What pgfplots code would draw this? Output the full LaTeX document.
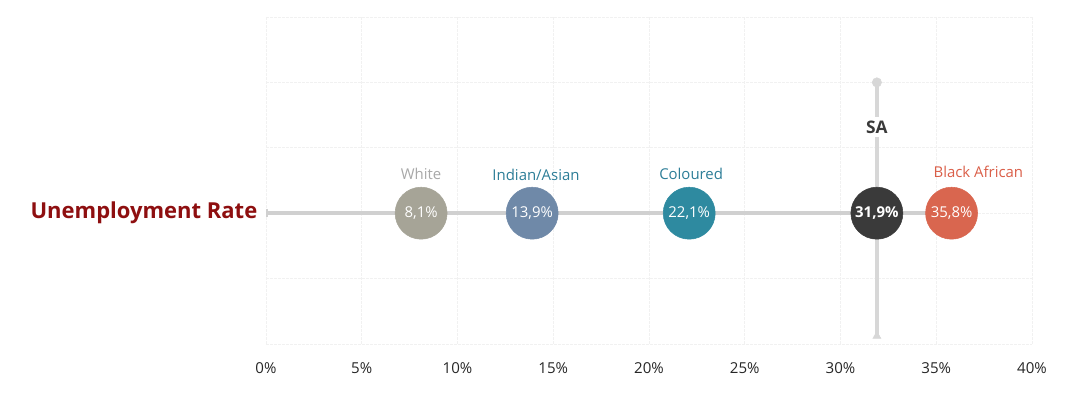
\documentclass[border=0pt]{standalone}
\usepackage{pgfplots}
\pgfplotsset{compat=1.18}
\usepackage{fontspec}
\setmainfont{Open Sans}
\definecolor{gridc}{HTML}{F1F1F1}
\definecolor{linec}{HTML}{D0D0D0}
\definecolor{cwhite}{HTML}{A6A497}
\definecolor{cindian}{HTML}{6F89A8}
\definecolor{ccol}{HTML}{2E8AA0}
\definecolor{csa}{HTML}{3A3A3A}
\definecolor{cblack}{HTML}{D9664F}
\definecolor{ltwhite}{HTML}{A8A8A8}
\definecolor{ltteal}{HTML}{2C7D97}
\definecolor{ltred}{HTML}{DA5E48}
\definecolor{titlec}{HTML}{8E0F10}
\begin{document}
\begin{tikzpicture}
\useasboundingbox (-199.5pt,-40.5pt) rectangle (610.5pt,258pt);
\begin{axis}[
  at={(0,0)}, anchor=south west,
  scale only axis,
  width=574.5pt, height=245.25pt,
  xmin=0, xmax=40, ymin=0, ymax=5,
  xtick={0,5,...,40},
  xticklabels={0\%,5\%,10\%,15\%,20\%,25\%,30\%,35\%,40\%},
  ytick={0,1,2,3,4,5},
  yticklabels={},
  grid=major,
  grid style={gridc, dash pattern=on 2pt off 1pt, line width=0.6pt},
  axis line style={draw=none},
  tick style={draw=none},
  xticklabel style={font=\fontsize{11.3}{13}\selectfont, text=black!85, anchor=base, yshift=-22pt},
  clip=false,
  circ/.style={only marks, mark=*, mark size=19.5pt, color=#1,
    nodes near coords align={center},
    every node near coord/.append style={text=white, font=\fontsize{11.2}{13}\selectfont, anchor=center}},
]
% horizontal rail
\addplot[linec, line width=3pt, mark=none] coordinates {(0,2) (35.8,2)};
% SA vertical rail
\addplot[linec!85!white, line width=2.6pt, mark=none] coordinates {(31.9,0.12) (31.9,4)};
\addplot[only marks, mark=*, mark size=3.5pt, color=linec!85!white] coordinates {(31.9,4)};
\addplot[only marks, mark=triangle*, mark size=3.5pt, color=linec!85!white] coordinates {(31.9,0.12)};
\addplot[only marks, mark=|, mark size=3pt, color=linec, line width=2pt] coordinates {(0.05,2)};
% circles with values
\addplot[circ=cwhite, nodes near coords={8,1\%}] coordinates {(8.1,2)};
\addplot[circ=cindian, nodes near coords={13,9\%}] coordinates {(13.9,2)};
\addplot[circ=ccol, nodes near coords={22,1\%}] coordinates {(22.1,2)};
\addplot[circ=csa, nodes near coords={\bfseries 31,9\%}] coordinates {(31.9,2)};
\addplot[circ=cblack, nodes near coords={35,8\%}] coordinates {(35.8,2)};
% category labels
\node[text=ltwhite, font=\fontsize{11.2}{13}\selectfont] at (axis cs:8.1,2.6) {White};
\node[text=ltteal, font=\fontsize{11.2}{13}\selectfont] at (axis cs:14.1,2.58) {Indian/Asian};
\node[text=ltteal, font=\fontsize{11.2}{13}\selectfont] at (axis cs:22.2,2.6) {Coloured};
\node[text=ltred, font=\fontsize{11.2}{13}\selectfont] at (axis cs:37.2,2.63) {Black African};
\node[fill=white, text=csa, font=\fontsize{13}{15}\selectfont\bfseries, inner sep=3pt] at (axis cs:31.9,3.32) {SA};
% title
\node[anchor=east, text=titlec, font=\fontsize{16.5}{19}\selectfont\bfseries] at ([xshift=-3pt]axis cs:0,2) {Unemployment Rate};
\end{axis}
\end{tikzpicture}
\end{document}
